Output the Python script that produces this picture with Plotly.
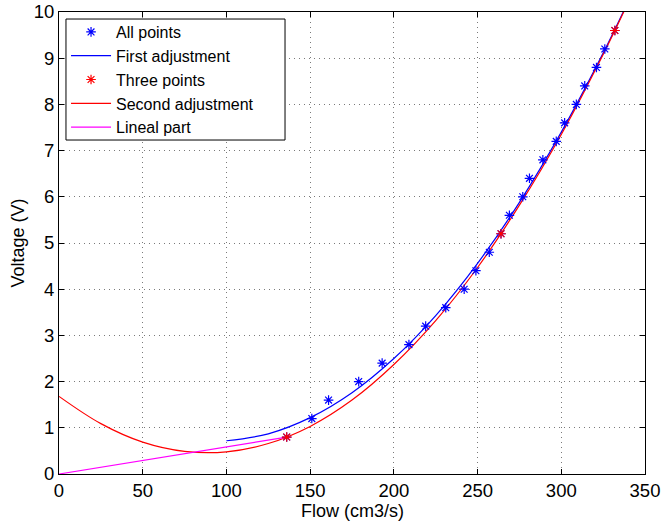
import plotly.graph_objects as go

# All measured points
all_flow = [136, 151, 161, 179, 193, 209, 219, 231, 242, 249, 257, 264, 269, 277,
            281, 289, 297, 302, 309, 314, 321, 326, 332]
all_volt = [0.8, 1.2, 1.6, 2.0, 2.4, 2.8, 3.2, 3.6, 4.0, 4.4, 4.8, 5.2, 5.6, 6.0,
            6.4, 6.8, 7.2, 7.6, 8.0, 8.4, 8.8, 9.2, 9.6]

# First adjustment
first_flow = [100, 125, 150, 175, 200, 225, 250, 275, 300, 325, 340]
first_volt = [0.72, 0.87, 1.22, 1.76, 2.50, 3.43, 4.56, 5.88, 7.40, 9.11, 10.23]

# Three points
three_flow = [136, 264, 332]
three_volt = [0.8, 5.2, 9.6]

# Second adjustment
second_flow = [0, 25, 50, 75, 100, 125, 150, 175, 200, 225, 250, 275, 300, 325, 340]
second_volt = [1.68, 1.09, 0.69, 0.49, 0.48, 0.66, 1.03, 1.60, 2.37, 3.32, 4.47,
               5.82, 7.35, 9.08, 10.21]

# Lineal part
lineal_flow = [0, 136]
lineal_volt = [0.0, 0.8]

x_ticks = [0, 50, 100, 150, 200, 250, 300, 350]
y_ticks = [0, 1, 2, 3, 4, 5, 6, 7, 8, 9, 10]

legend_names = ["All points", "First adjustment", "Three points",
                "Second adjustment", "Lineal part"]

BLUE = "#0000ff"
RED = "#ff0000"
MAGENTA = "#ff00ff"
FONT = "Liberation Sans, Arial, sans-serif"

fig = go.Figure()
fig.add_trace(go.Scatter(x=first_flow, y=first_volt, mode="lines", name=legend_names[1],
                         line=dict(color=BLUE, width=1.2, shape="spline"), showlegend=False))
fig.add_trace(go.Scatter(x=second_flow, y=second_volt, mode="lines", name=legend_names[3],
                         line=dict(color=RED, width=1.2, shape="spline"), showlegend=False))
fig.add_trace(go.Scatter(x=lineal_flow, y=lineal_volt, mode="lines", name=legend_names[4],
                         line=dict(color=MAGENTA, width=1.2), showlegend=False))
fig.add_trace(go.Scatter(x=all_flow, y=all_volt, mode="markers", name=legend_names[0],
                         marker=dict(symbol="asterisk-open", size=8, color=BLUE,
                                     line=dict(color=BLUE, width=1.2)), showlegend=False))
fig.add_trace(go.Scatter(x=three_flow, y=three_volt, mode="markers", name=legend_names[2],
                         marker=dict(symbol="asterisk-open", size=8, color=RED,
                                     line=dict(color=RED, width=1.2)), showlegend=False))

# Legend entries in the reference order
fig.add_trace(go.Scatter(x=[None], y=[None], mode="markers", name=legend_names[0],
                         marker=dict(symbol="asterisk-open", size=8, color=BLUE,
                                     line=dict(color=BLUE, width=1.2))))
fig.add_trace(go.Scatter(x=[None], y=[None], mode="lines", name=legend_names[1],
                         line=dict(color=BLUE, width=1.2)))
fig.add_trace(go.Scatter(x=[None], y=[None], mode="markers", name=legend_names[2],
                         marker=dict(symbol="asterisk-open", size=8, color=RED,
                                     line=dict(color=RED, width=1.2))))
fig.add_trace(go.Scatter(x=[None], y=[None], mode="lines", name=legend_names[3],
                         line=dict(color=RED, width=1.2)))
fig.add_trace(go.Scatter(x=[None], y=[None], mode="lines", name=legend_names[4],
                         line=dict(color=MAGENTA, width=1.2)))

axis_common = dict(
    showline=True, linecolor="black", linewidth=1, mirror="ticks",
    ticks="inside", ticklen=5, tickcolor="black",
    showgrid=True, gridcolor="#7a7a7a", griddash="1px,4px", gridwidth=1,
    zeroline=False, automargin=False,
    tickfont=dict(family=FONT, size=18.5, color="black"),
)

fig.update_layout(
    width=663, height=521,
    margin=dict(l=59, r=18, t=12, b=47),
    paper_bgcolor="white", plot_bgcolor="white",
    font=dict(family=FONT, size=17, color="black"),
    xaxis=dict(range=[0, 350], tickvals=x_ticks, ticktext=[str(v) for v in x_ticks],
               **axis_common),
    yaxis=dict(range=[0, 10], tickvals=y_ticks, ticktext=[str(v) for v in y_ticks],
               **axis_common),
    legend=dict(x=0.012, y=0.9935, xanchor="left", yanchor="top",
                bgcolor="rgba(0,0,0,0)", borderwidth=0,
                font=dict(family=FONT, size=16, color="black"),
                itemwidth=40, tracegroupgap=0),
    showlegend=True,
    shapes=[
        dict(type="rect", xref="paper", yref="paper", x0=0.0119, x1=0.3857,
             y0=0.7229, y1=0.9848, line=dict(color="black", width=1),
             fillcolor="white", layer="above"),
    ],
    annotations=[
        dict(text="Flow (cm3/s)", xref="paper", yref="paper", x=0.5, y=-0.0795,
             xanchor="center", yanchor="middle", showarrow=False,
             font=dict(family=FONT, size=18, color="black")),
        dict(text="Voltage (V)", xref="paper", yref="paper", x=-0.0708, y=0.5,
             xanchor="center", yanchor="middle", showarrow=False, textangle=-90,
             font=dict(family=FONT, size=18, color="black")),
    ],
)

fig.write_html("out.html", config={"displayModeBar": False},
               post_script="document.body.style.margin='0';")
